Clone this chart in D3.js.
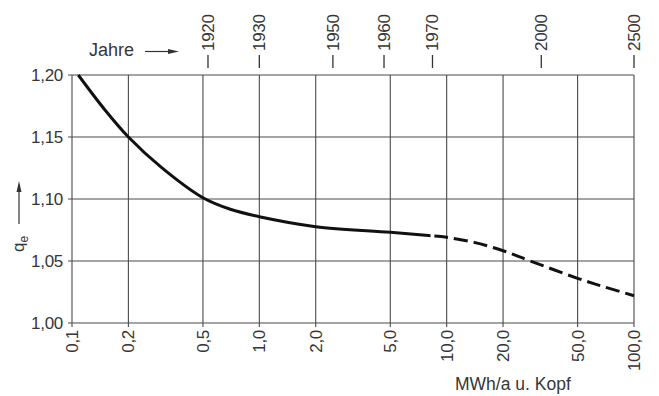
<!DOCTYPE html>
<html>
<head>
<meta charset="utf-8">
<script src="https://cdn.jsdelivr.net/npm/d3@7"></script>
<style>
    body { margin: 0; background: #fff; }
    svg { display: block; }
    text { font-family: "Liberation Sans", Arial, sans-serif; fill: #363636; }
</style>
</head>
<body>
<div id="chart"></div>
<script>

// Data
var xTicks = [0.1, 0.2, 0.5, 1, 2, 5, 10, 20, 50, 100];
var xTickLabels = ["0,1", "0,2", "0,5", "1,0", "2,0", "5,0", "10,0", "20,0", "50,0", "100,0"];
var yTicks = [1.00, 1.05, 1.10, 1.15, 1.20];
var yTickLabels = ["1,00", "1,05", "1,10", "1,15", "1,20"];

var years = ["1920", "1930", "1950", "1960", "1970", "2000", "2500"];
var yearMwh = [0.532, 1.0, 2.47, 4.63, 8.4, 32, 100];

// curve q_e over MWh/a per head
var curveMwh = [0.108, 0.15, 0.2, 0.3, 0.5, 0.7, 1.0, 2.0, 5.0, 8.0, 10, 14, 20, 28, 50, 70, 100];
var curveQe = [1.200, 1.1718, 1.150, 1.1255, 1.101, 1.0917, 1.0857, 1.0777, 1.0731, 1.0705,
    1.0691, 1.065, 1.0583, 1.050, 1.036, 1.029, 1.022];
// beyond this value the curve is a forecast (dashed)
var forecastFrom = 8.2;

var width = 659,
    height = 396;

var svg = d3.select("#chart").append("svg")
    .attr("width", width)
    .attr("height", height);

var x = d3.scaleLog()
    .domain([0.1, 100])
    .range([72, 634]);

var y = d3.scaleLinear()
    .domain([1.0, 1.2])
    .range([323, 75]);

var gridColor = "#4a4a4a";

// Grid lines (they also make the frame)
svg.append("g")
    .selectAll("line")
    .data(xTicks)
    .join("line")
    .attr("x1", d => x(d))
    .attr("x2", d => x(d))
    .attr("y1", y(1.2))
    .attr("y2", y(1.0) + 4)
    .attr("stroke", gridColor)
    .attr("stroke-width", 1.1);

svg.append("g")
    .selectAll("line")
    .data(yTicks)
    .join("line")
    .attr("x1", x(0.1) - 4)
    .attr("x2", x(100))
    .attr("y1", d => y(d))
    .attr("y2", d => y(d))
    .attr("stroke", gridColor)
    .attr("stroke-width", 1.1);

// Y tick labels
svg.append("g")
    .selectAll("text")
    .data(yTicks)
    .join("text")
    .attr("x", x(0.1) - 9)
    .attr("y", d => y(d))
    .attr("dy", "0.36em")
    .attr("text-anchor", "end")
    .attr("font-size", 17)
    .attr("letter-spacing", -0.3)
    .text((d, i) => yTickLabels[i]);

// X tick labels (rotated)
svg.append("g")
    .selectAll("text")
    .data(xTicks)
    .join("text")
    .attr("transform", d => "translate(" + (x(d) + 6) + "," + (y(1.0) + 7) + ") rotate(-90)")
    .attr("text-anchor", "end")
    .attr("font-size", 17)
    .attr("letter-spacing", -0.3)
    .text((d, i) => xTickLabels[i]);

svg.append("text")
    .attr("x", 455)
    .attr("y", 390)
    .attr("font-size", 17.5)
    .text("MWh/a u. Kopf");

// Year scale on top
var yearG = svg.append("g");
yearG.selectAll("line")
    .data(yearMwh)
    .join("line")
    .attr("x1", d => x(d))
    .attr("x2", d => x(d))
    .attr("y1", 55)
    .attr("y2", 68)
    .attr("stroke", "#333")
    .attr("stroke-width", 1.3);

yearG.selectAll("text")
    .data(yearMwh)
    .join("text")
    .attr("transform", d => "translate(" + (x(d) + 6) + ",51) rotate(-90)")
    .attr("text-anchor", "start")
    .attr("font-size", 17)
    .attr("letter-spacing", -0.3)
    .text((d, i) => years[i]);

svg.append("text")
    .attr("x", 89)
    .attr("y", 56)
    .attr("font-size", 18)
    .text("Jahre");

svg.append("line")
    .attr("x1", 145)
    .attr("x2", 170)
    .attr("y1", 51.5)
    .attr("y2", 51.5)
    .attr("stroke", "#333")
    .attr("stroke-width", 1.2);
svg.append("path")
    .attr("d", "M168,49 L179,51.5 L168,54 Z")
    .attr("fill", "#333");

// Y axis title q_e with arrow
var yTitle = svg.append("text")
    .attr("transform", "translate(24,252) rotate(-90)")
    .attr("font-size", 17);
yTitle.append("tspan").text("q");
yTitle.append("tspan")
    .attr("font-size", 12)
    .attr("dy", 4)
    .text("e");

svg.append("line")
    .attr("x1", 19)
    .attr("x2", 19)
    .attr("y1", 224)
    .attr("y2", 190)
    .attr("stroke", "#333")
    .attr("stroke-width", 1.2);
svg.append("path")
    .attr("d", "M16.5,192 L19,181 L21.5,192 Z")
    .attr("fill", "#333");

// The curve: one smooth path, split by clipping into solid and dashed parts
var line = d3.line()
    .x(d => x(d[0]))
    .y(d => y(d[1]))
    .curve(d3.curveCatmullRom.alpha(0.5));

var pts = curveMwh.map((m, i) => [m, curveQe[i]]);

var defs = svg.append("defs");
defs.append("clipPath").attr("id", "clip-solid")
    .append("rect")
    .attr("x", 0).attr("y", 0)
    .attr("width", x(forecastFrom)).attr("height", height);
defs.append("clipPath").attr("id", "clip-dash")
    .append("rect")
    .attr("x", x(forecastFrom)).attr("y", 0)
    .attr("width", width - x(forecastFrom)).attr("height", height);

svg.append("path")
    .datum(pts)
    .attr("d", line)
    .attr("clip-path", "url(#clip-solid)")
    .attr("fill", "none")
    .attr("stroke", "#111")
    .attr("stroke-width", 3);

svg.append("path")
    .datum(pts.filter(d => d[0] >= 5))
    .attr("d", d3.line()
        .x(d => x(d[0]))
        .y(d => y(d[1]))
        .curve(d3.curveCatmullRom.alpha(0.5)))
    .attr("clip-path", "url(#clip-dash)")
    .attr("fill", "none")
    .attr("stroke", "#111")
    .attr("stroke-width", 3)
    .attr("stroke-dasharray", "14,6")
    .attr("stroke-dashoffset", -4);

</script>
</body>
</html>
